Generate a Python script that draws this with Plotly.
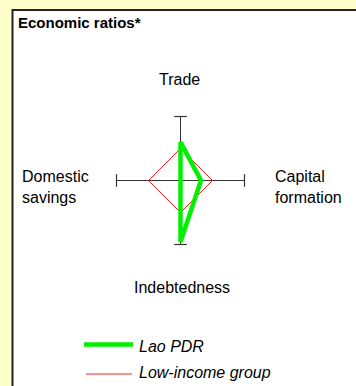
import math
import plotly.graph_objects as go

# ---- data ----
categories = ["Trade", "Capital formation", "Indebtedness", "Domestic savings"]
category_labels = ["Trade", "Capital<br>formation", "Indebtedness", "Domestic<br>savings"]
series_names = ["Lao PDR", "Low-income group"]
lao_pdr = [0.60, 0.32, 0.96, 0.0]
low_income = [0.5, 0.5, 0.5, 0.5]
axis_max = 1.0

# ---- geometry helpers (pixel layout) ----
W, H = 356, 386
CX, CY, R = 180.5, 180.5, 64.0  # centre of the radar in pixels, radius in px
angles = [90, 0, 270, 180]      # Trade top, clockwise


def px_x(p):
    return (p - CX) / R


def px_y(p):
    return (CY - p) / R


def polar_xy(values):
    xs = [v / axis_max * math.cos(math.radians(a)) for v, a in zip(values, angles)]
    ys = [v / axis_max * math.sin(math.radians(a)) for v, a in zip(values, angles)]
    return xs + xs[:1], ys + ys[:1]


FONT = "Liberation Sans, Arial, sans-serif"
fig = go.Figure()

# axes (spokes with end caps)
for i, sym in ((0, "line-ew"), (1, "line-ns")):
    a1, a2 = angles[i], angles[i + 2]
    fig.add_trace(go.Scatter(
        x=[math.cos(math.radians(a1)), math.cos(math.radians(a2))],
        y=[math.sin(math.radians(a1)), math.sin(math.radians(a2))],
        mode="lines+markers",
        line=dict(color="#333333", width=1),
        marker=dict(symbol=sym, size=9, line=dict(color="#333333", width=1.2)),
        hoverinfo="skip", showlegend=False,
    ))

lx, ly = polar_xy(low_income)
fig.add_trace(go.Scatter(x=lx, y=ly, mode="lines", name=series_names[1],
                         line=dict(color="#FF2020", width=1), showlegend=False))
gx, gy = polar_xy(lao_pdr)
fig.add_trace(go.Scatter(x=gx, y=gy, mode="lines", name=series_names[0],
                         line=dict(color="#00F000", width=4.5), showlegend=False))

annotations = []
# title
annotations.append(dict(x=16 / W, y=1 - 22.5 / H, xref="paper", yref="paper",
                        text="<b>Economic ratios*</b>", showarrow=False,
                        xanchor="left", yanchor="middle",
                        font=dict(family=FONT, size=15, color="#000")))
# category labels
label_pos = [
    (px_x(179.5), px_y(79.5), "center"),
    (px_x(273), px_y(186.5), "left"),
    (px_x(182), px_y(287.7), "center"),
    (px_x(20), px_y(186.5), "left"),
]
for (x, y, anc), txt in zip(label_pos, category_labels):
    annotations.append(dict(x=x, y=y, xref="x", yref="y", text=txt, showarrow=False,
                            xanchor=anc, yanchor="middle", align="left",
                            font=dict(family=FONT, size=16, color="#000")))

# manual legend
shapes = [dict(type="rect", xref="paper", yref="paper",
               x0=12.5 / W, x1=1.05, y0=-0.05, y1=1 - 10 / H,
               line=dict(color="#222222", width=2), fillcolor="white", layer="below")]
legend_rows = [(series_names[0], "#00F000", 4.5, 84, 133, 344.5, 346),
               (series_names[1], "#FF2020", 1, 86, 132, 374, 372)]
for name, col, wd, x0, x1, yl, yt in legend_rows:
    shapes.append(dict(type="line", xref="x", yref="y", x0=px_x(x0), x1=px_x(x1),
                       y0=px_y(yl), y1=px_y(yl), line=dict(color=col, width=wd)))
    annotations.append(dict(x=px_x(137), y=px_y(yt), xref="x", yref="y",
                            text=f"<i>{name}</i>", showarrow=False,
                            xanchor="left", yanchor="middle",
                            font=dict(family=FONT, size=16, color="#000")))

fig.update_layout(
    width=W, height=H, margin=dict(l=0, r=0, t=0, b=0),
    paper_bgcolor="#FFFFCC", plot_bgcolor="rgba(0,0,0,0)",
    xaxis=dict(range=[px_x(0), px_x(W)], visible=False, fixedrange=True),
    yaxis=dict(range=[px_y(H), px_y(0)], visible=False, fixedrange=True),
    shapes=shapes, annotations=annotations, showlegend=False,
)
fig.write_html(
    "out.html",
    config={"displayModeBar": False},
    post_script="document.body.style.margin='0';document.body.style.overflow='hidden';"
                "document.body.style.backgroundColor='#FFFFCC';",
)
